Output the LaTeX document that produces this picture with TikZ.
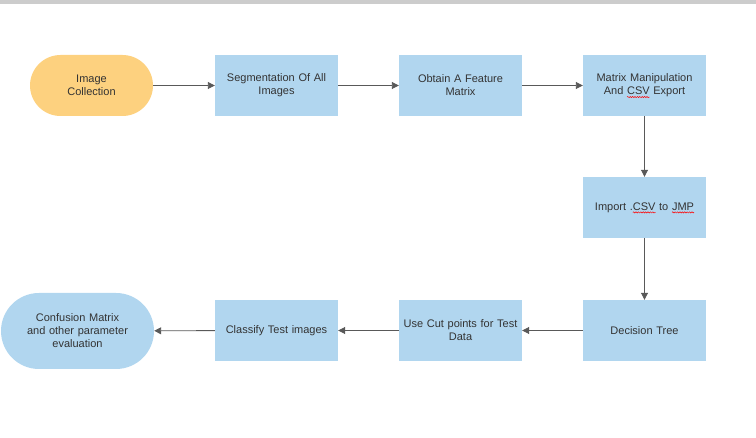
\documentclass[tikz,border=0pt]{standalone}
\usepackage{fontspec}
\setmainfont{Liberation Sans}
\usetikzlibrary{arrows.meta,shapes.misc,decorations.pathmorphing}
\definecolor{boxblue}{HTML}{B1D6EF}
\definecolor{termyellow}{HTML}{FDD17F}
\definecolor{txt}{HTML}{333333}
\definecolor{lnk}{HTML}{595959}
\definecolor{topbar}{HTML}{CCCCCC}
\newsavebox{\smbox}
\newcommand{\spellmark}[1]{\sbox{\smbox}{#1}\rlap{\tikz[baseline=0pt]{\useasboundingbox (0pt,0pt) rectangle (\wd\smbox,0.1pt);
  \draw[red, line width=0.5pt, decorate, decoration={snake, amplitude=0.6pt, segment length=2.4pt}] (0pt,-2.2pt) -- (\wd\smbox,-2.2pt);}}\usebox{\smbox}}
\begin{document}
\begin{tikzpicture}[x=1pt,y=-1pt,
  every node/.style={font=\fontsize{11}{13}\selectfont, text=txt, align=center, inner sep=0pt},
  procbox/.style={fill=boxblue, minimum width=123pt, minimum height=61pt, text width=118pt},
  termbox/.style={rounded rectangle, minimum height=61pt, minimum width=123pt, text width=105pt},
  link/.style={draw=lnk, line width=0.9pt, -{Triangle[length=7pt,width=7pt]}}]
\useasboundingbox (0,0) rectangle (756,438);
\fill[topbar] (0,0) rectangle (756,4);
\node[termbox, fill=termyellow] (collect) at (91.5,85.5) {Image\\Collection};
\node[procbox] (seg) at (276.5,85.5) {Segmentation Of All\\Images};
\node[procbox] (feat) at (460.5,85.5) {Obtain A Feature\\Matrix};
\node[procbox] (manip) at (644.5,85.5) {Matrix Manipulation\\And \spellmark{CSV} Export};
\node[procbox] (import) at (644.5,207.5) {Import .\spellmark{CSV} to \spellmark{JMP}};
\node[procbox] (tree) at (644.5,330.5) {Decision Tree};
\node[procbox] (cut) at (460.5,330.5) {Use Cut points for Test\\Data};
\node[procbox] (classify) at (276.5,330.5) {Classify Test images};
\node[termbox, fill=boxblue, minimum width=153pt, minimum height=76pt, text width=130pt] (conf) at (77.5,331) {Confusion Matrix\\and other parameter\\evaluation};
\draw[link] (collect) -- (seg);
\draw[link] (seg) -- (feat);
\draw[link] (feat) -- (manip);
\draw[link] (manip) -- (import);
\draw[link] (import) -- (tree);
\draw[link] (tree) -- (cut);
\draw[link] (cut) -- (classify);
\draw[link] (classify) -- (conf);
\end{tikzpicture}
\end{document}
